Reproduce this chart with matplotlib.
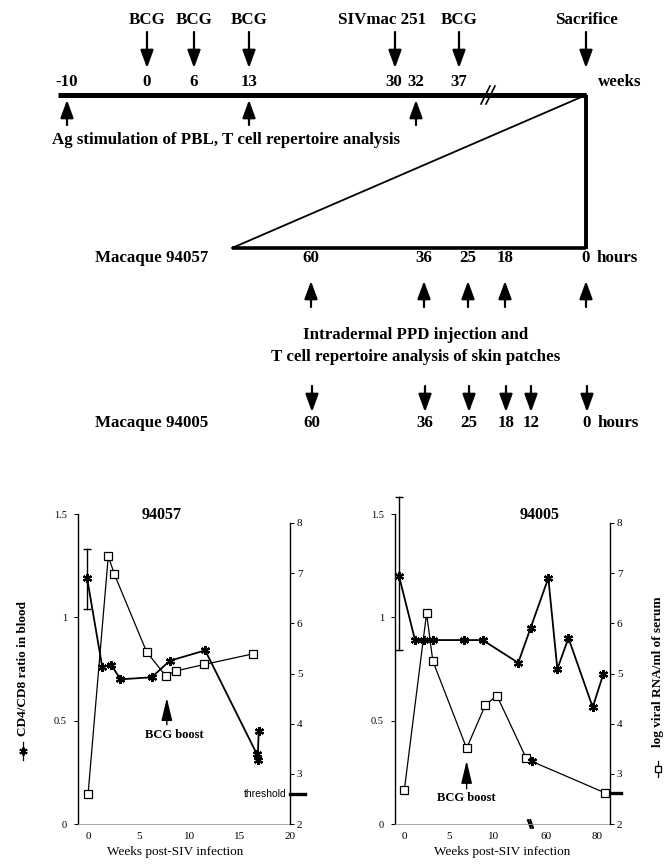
import matplotlib
matplotlib.use("Agg")
import matplotlib.pyplot as plt
import matplotlib.transforms as mtransforms
from matplotlib.lines import Line2D
import numpy as np

plt.rcParams['font.family'] = ['Liberation Serif', 'DejaVu Serif']

# schematic (top part) - labels and their place on the drawing
week_labels = ['-10', '0', '6', '13', '30', '32', '37']
week_pos = [67, 147, 194, 249, 394, 416, 459]
event_labels = ['BCG', 'BCG', 'BCG', 'SIVmac 251', 'BCG', 'Sacrifice']
event_pos = [147, 194, 249, 395, 459, 586]
event_text_pos = [147, 194, 249, 382, 459, 586]
ag_pos = [67, 249, 416]
hours_57 = ['60', '36', '25', '18', '0']
hours_57_pos = [311, 424, 468, 505, 586]
hours_05 = ['60', '36', '25', '18', '12', '0']
hours_05_pos = [312, 425, 469, 506, 531, 587]

# macaque 94057
wk_57_cd4 = [-0.1, 1.4, 2.3, 3.2, 6.3, 8.1, 11.6, 16.7, 16.8, 16.9]
cd4_57 = [1.19, 0.76, 0.77, 0.70, 0.71, 0.79, 0.84, 0.34, 0.31, 0.45]
cd4_57_err = (1.04, 1.33)
wk_57_vir = [0, 2.0, 2.6, 5.8, 7.7, 8.7, 11.5, 16.3]
vir_57 = [2.6, 7.34, 6.98, 5.43, 4.95, 5.05, 5.18, 5.39]
boost_57 = 7.8

# macaque 94005
wk_05_cd4 = [-0.6, 1.2, 2.2, 3.2, 6.7, 8.8, 12.8, 14.2, 61.0, 64.5, 68.8, 78.2, 82.3]
cd4_05 = [1.2, 0.89, 0.89, 0.89, 0.89, 0.89, 0.78, 0.95, 1.19, 0.75, 0.90, 0.565, 0.725]
cd4_05_err = (0.84, 1.58)
wk_05_vir = [0, 2.5, 3.2, 7.0, 9.1, 10.4, 13.7, 14.3, 83.0]
vir_05 = [2.68, 6.2, 5.25, 3.51, 4.37, 4.56, 3.31, 3.25, 2.62]
boost_05 = 7.0

threshold = 2.6

fig = plt.figure(figsize=(6.69, 8.64), dpi=100)
W, H = 669.0, 864.0

# ---------------- schematic ----------------
ax0 = fig.add_axes([0, 0, 1, 1])
ax0.set_xlim(0, W)
ax0.set_ylim(H, 0)
ax0.axis('off')

FS = 12.2
big = dict(fontsize=FS, fontweight='bold', ha='center', va='center')
left_txt = dict(fontsize=FS, fontweight='bold', ha='left', va='center')


def arrow(x, y_from, y_to):
    ax0.annotate('', xy=(x, y_to), xytext=(x, y_from),
                 arrowprops=dict(arrowstyle='-|>,head_length=0.9,head_width=0.33',
                                 mutation_scale=12, lw=1.6, color='k',
                                 shrinkA=0, shrinkB=0))


for lab, x in zip(event_labels, event_text_pos):
    ax0.text(x, 20, lab, **big)
for x in event_pos:
    arrow(x, 32, 68)
for lab, x in zip(week_labels, week_pos):
    ax0.text(x, 82, lab, **big)
ax0.text(598, 82, 'weeks', **left_txt)

ax0.plot([58, 586], [95, 95], color='k', lw=3.6, solid_capstyle='butt')
for dx in (0, 5):
    ax0.plot([481 + dx, 490 + dx], [104, 86], color='k', lw=1.2)
for x in ag_pos:
    arrow(x, 125, 100)
ax0.text(52, 140, 'Ag stimulation of PBL, T cell repertoire analysis', **left_txt)

# triangle
ax0.plot([232, 586], [248, 95], color='k', lw=1.3)
ax0.plot([232, 586], [248, 248], color='k', lw=2.6, solid_capstyle='butt')
ax0.plot([586, 586], [95, 249], color='k', lw=2.8, solid_capstyle='butt')

ax0.text(95, 258, 'Macaque 94057', **left_txt)
for lab, x in zip(hours_57, hours_57_pos):
    ax0.text(x, 258, lab, **big)
    arrow(x, 307, 281)
ax0.text(597, 258, 'hours', **left_txt)

ax0.text(416, 335, 'Intradermal PPD injection and', **big)
ax0.text(416, 357, 'T cell repertoire analysis of skin patches', **big)

for lab, x in zip(hours_05, hours_05_pos):
    arrow(x, 386, 412)
    ax0.text(x, 423, lab, **big)
ax0.text(95, 423, 'Macaque 94005', **left_txt)
ax0.text(598, 423, 'hours', **left_txt)

# ---------------- graphs ----------------
bottom = (H - 824) / H
h_cd4 = 310 / H
h_vir = 301 / H


def style_left(ax):
    for s in ('top', 'right'):
        ax.spines[s].set_visible(False)
    ax.spines['left'].set_linewidth(1.0)
    ax.spines['bottom'].set_linewidth(0.6)
    ax.spines['bottom'].set_color('0.6')
    ax.set_ylim(0, 1.5)
    ax.set_yticks([0, 0.5, 1, 1.5])
    ax.set_yticklabels(['0', '0.5', '1', '1.5'])
    ax.tick_params(axis='y', direction='out', length=3, width=0.7, labelsize=7.5, pad=5)
    ax.tick_params(axis='x', length=0, labelsize=8, pad=6)
    ax.set_facecolor('none')


def style_right(ax):
    for s in ('top', 'left', 'bottom'):
        ax.spines[s].set_visible(False)
    ax.spines['right'].set_linewidth(1.0)
    ax.set_ylim(2, 8)
    ax.set_yticks(range(2, 9))
    ax.yaxis.tick_right()
    ax.tick_params(axis='y', direction='out', length=3, width=0.7, labelsize=8, pad=2)
    ax.tick_params(axis='x', which='both', bottom=False, labelbottom=False)
    ax.set_facecolor('none')


cd4_kw = dict(color='k', lw=1.3, marker=(6, 2, 0), ms=6.5, mew=1.6, zorder=3)
vir_kw = dict(color='k', lw=0.9, marker='s', ms=5.5, mfc='white', mec='k', mew=0.9, zorder=4)
arrow_kw = dict(arrowstyle='-|>,head_length=1.0,head_width=0.24', mutation_scale=14,
                lw=1.0, color='k', shrinkA=0, shrinkB=0)


def error_bar(ax, x, lo, hi):
    ax.plot([x, x], [lo, hi], color='k', lw=1.0, clip_on=False)
    ax.plot([x, x], [lo, hi], ls='none', marker='_', ms=6, mew=1.0, color='k', clip_on=False)


# left panel: 94057
ax1 = fig.add_axes([78 / W, bottom, 212 / W, h_cd4])
ax1r = fig.add_axes([78 / W, bottom, 212 / W, h_vir], sharex=ax1)
style_left(ax1)
style_right(ax1r)
ax1.set_xlim(-1, 20)
ax1.set_xticks([0, 5, 10, 15, 20])

ax1.plot(wk_57_cd4, cd4_57, **cd4_kw)
error_bar(ax1, wk_57_cd4[0], *cd4_57_err)
ax1r.plot(wk_57_vir, vir_57, **vir_kw)
ax1.annotate('', xy=(boost_57, 0.61), xytext=(boost_57, 0.48), arrowprops=arrow_kw)
ax1.text(boost_57 + 0.7, 0.43, 'BCG boost', fontsize=9, fontweight='bold', ha='center', va='center')
ax1.text(0.396, 0.997, '94057', transform=ax1.transAxes, fontsize=11.5,
         fontweight='bold', ha='center', va='center')
ax1.set_xlabel('Weeks post-SIV infection', fontsize=9.5, labelpad=3)
ax1.xaxis.label.set_x(0.46)

tr = mtransforms.blended_transform_factory(ax1r.transAxes, ax1r.transData)
ax1r.plot([1.0, 1.072], [threshold, threshold], color='k', lw=2.4, transform=tr, clip_on=False)
ax1r.text(0.985, threshold, 'threshold', transform=tr, fontsize=7.5,
          family=['Liberation Sans', 'DejaVu Sans'], ha='right', va='center')

# right panel: 94005 (broken time axis)
B1, B2, R = 14.5, 55.2, 0.29


def fwd(x):
    x = np.asarray(x, dtype=float)
    return np.where(x <= B1, x, np.where(x >= B2, B1 + (x - B2) * R, B1))


def inv(c):
    c = np.asarray(c, dtype=float)
    return np.where(c <= B1, c, B2 + (c - B1) / R)


ax2 = fig.add_axes([395 / W, bottom, 215 / W, h_cd4])
ax2r = fig.add_axes([395 / W, bottom, 215 / W, h_vir], sharex=ax2)
style_left(ax2)
style_right(ax2r)
ax2.set_xscale('function', functions=(fwd, inv))
ax2.set_xlim(-1.05, 84.9)
ax2.set_xticks([0, 5, 10, 60, 80])
ax2.set_xticklabels(['0', '5', '10', '60', '80'])
ax2.xaxis.set_minor_locator(matplotlib.ticker.NullLocator())

ax2.plot(wk_05_cd4, cd4_05, **cd4_kw)
error_bar(ax2, wk_05_cd4[0], *cd4_05_err)
ax2r.plot(wk_05_vir, vir_05, markevery=[0, 1, 2, 3, 4, 5, 6, 8], **vir_kw)
ax2r.plot(wk_05_vir[7], vir_05[7], ls='none', marker=(6, 2, 0), ms=6.5, mew=1.6, color='k', zorder=5)
ax2.annotate('', xy=(boost_05, 0.306), xytext=(boost_05, 0.17), arrowprops=arrow_kw)
ax2.text(boost_05, 0.126, 'BCG boost', fontsize=9, fontweight='bold', ha='center', va='center')
ax2.text(0.674, 0.997, '94005', transform=ax2.transAxes, fontsize=11.5,
         fontweight='bold', ha='center', va='center')
ax2.set_xlabel('Weeks post-SIV infection', fontsize=9.5, labelpad=3)

tr2 = mtransforms.blended_transform_factory(ax2r.transAxes, ax2r.transData)
ax2r.plot([1.0, 1.05], [2.61, 2.61], color='k', lw=2.4, transform=tr2, clip_on=False)

# axis break marks
trb = ax2.get_xaxis_transform()
for off in (0.0, 0.25):
    ax2.plot([13.9 + off, 14.2 + off], [0.012, -0.012], color='k', lw=1.6,
             transform=trb, clip_on=False)

# axis titles with their line keys
fig.text(23 / W, (H - 669) / H, 'CD4/CD8 ratio in blood', rotation=90,
         fontsize=9.5, fontweight='bold', ha='center', va='center')
fig.add_artist(Line2D([23 / W] * 3, [(H - 742) / H, (H - 751) / H, (H - 760) / H],
                      transform=fig.transFigure, color='k', lw=0.9,
                      marker=(6, 2, 0), ms=6, mew=1.4, markevery=[1]))
fig.text(658 / W, (H - 672) / H, 'log viral RNA/ml of serum', rotation=90,
         fontsize=9.5, fontweight='bold', ha='center', va='center')
fig.add_artist(Line2D([658 / W] * 3, [(H - 761) / H, (H - 769) / H, (H - 777) / H],
                      transform=fig.transFigure, color='k', lw=0.9,
                      marker='s', ms=5, mfc='white', mec='k', mew=0.9, markevery=[1]))

fig.savefig('out.png', dpi=100)
